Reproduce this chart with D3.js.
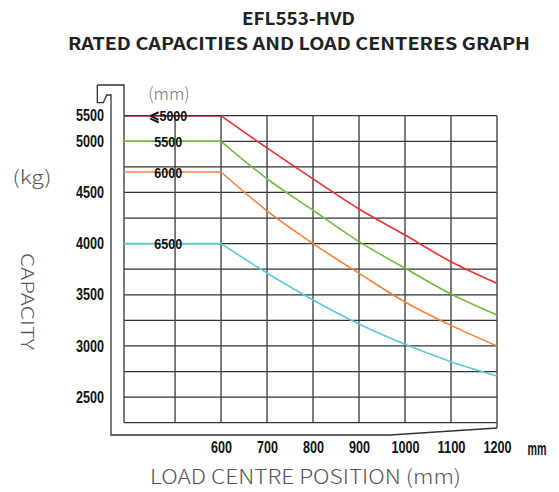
<!DOCTYPE html>
<html><head><meta charset="utf-8">
<script src="https://cdn.jsdelivr.net/npm/d3@7"></script>
<style>body{margin:0;background:#fff}</style>
</head><body><svg id="c" width="559" height="492"></svg>
<script>
// ---- data ----
const loadCentres = [389, 600, 700, 800, 900, 1000, 1100, 1200];
const seriesNames = ["⩽5000", "5500", "6000", "6500"];
const cap5000 = [5500, 5500, 4935, 4632, 4338, 4084, 3823, 3612];
const cap5500 = [5000, 5000, 4634, 4326, 4020, 3759, 3507, 3302];
const cap6000 = [4700, 4700, 4320, 4000, 3710, 3430, 3201, 3000];
const cap6500 = [4000, 4000, 3713, 3449, 3214, 3016, 2846, 2706];
const xTicks = [600, 700, 800, 900, 1000, 1100, 1200];
const xGrid = [500, 600, 700, 800, 900, 1000, 1100, 1200];
const yTicks = [5500, 5000, 4500, 4000, 3500, 3000, 2500];
const yGrid = [5500, 5000, 4750, 4500, 4250, 4000, 3750, 3500, 3250, 3000, 2750, 2500, 2250];
const colors = ["#ec2f33", "#73bb43", "#f5823b", "#5ec9d6"];

const series = [cap5000, cap5500, cap6000, cap6500].map((vals, i) => ({
  name: seriesNames[i], color: colors[i],
  pts: loadCentres.map((lc, j) => [lc, vals[j]])
}));

const svg = d3.select("#c");
const x = d3.scaleLinear().domain([389, 1200]).range([124, 497]);
// broken axis: top band (5000-5500) compressed
const y = d3.scaleLinear().domain([2250, 5000, 5500]).range([422.7, 141.3, 115.7]);

const numFont = "'Liberation Sans',Arial,sans-serif";
const lightFont = "'Noto Sans CJK SC','Noto Sans',sans-serif";
const narrow = function () { return this.textContent.length * 7; };

// title
svg.append("text").attr("x", 298.5).attr("y", 25).attr("text-anchor", "middle")
  .attr("font-family", "'Noto Sans CJK SC','Noto Sans',sans-serif").attr("font-weight", "bold")
  .attr("font-size", 17.5).attr("fill", "#222")
  .attr("textLength", 113).attr("lengthAdjust", "spacingAndGlyphs").text("EFL553-HVD");
svg.append("text").attr("x", 299).attr("y", 50).attr("text-anchor", "middle")
  .attr("font-family", "'Noto Sans CJK SC','Noto Sans',sans-serif").attr("font-weight", "bold")
  .attr("font-size", 17.5).attr("fill", "#222")
  .attr("textLength", 462).attr("lengthAdjust", "spacingAndGlyphs")
  .text("RATED CAPACITIES AND LOAD CENTERES GRAPH");

// grid
const g = svg.append("g");
g.selectAll("line.h").data(yGrid).join("line")
  .attr("x1", x(389)).attr("x2", x(1200))
  .attr("y1", d => y(d)).attr("y2", d => y(d))
  .attr("stroke", "#333").attr("stroke-width", 1.2);
g.selectAll("line.v").data(xGrid).join("line")
  .attr("x1", d => x(d)).attr("x2", d => x(d))
  .attr("y1", y(5500)).attr("y2", d => d === 1200 ? 428 : y(2250))
  .attr("stroke", "#444").attr("stroke-width", 1.4);

// outer frame (mast-shaped)
svg.append("path")
  .attr("d", `M97.3,85 H${x(389)} V${y(2250)} M97.3,85 V102.7 H103.3 L106.7,95 H111 V435 H390 L${x(1200)},428`)
  .attr("fill", "none").attr("stroke", "#333").attr("stroke-width", 1.3);

// curves: flat part straight, then smooth decline from 600 mm
const flat = d3.line().x(d => x(d[0])).y(d => y(d[1]));
const curve = d3.line().x(d => x(d[0])).y(d => y(d[1])).curve(d3.curveMonotoneX);
const sg = svg.selectAll("g.s").data(series).join("g");
sg.append("path").attr("d", d => flat(d.pts.slice(0, 2)))
  .attr("fill", "none").attr("stroke", d => d.color).attr("stroke-width", 1.6);
sg.append("path").attr("d", d => curve(d.pts.slice(1)))
  .attr("fill", "none").attr("stroke", d => d.color).attr("stroke-width", 1.6);

// darken top border over red flat part
svg.append("line").attr("x1", x(389)).attr("x2", x(600)).attr("y1", y(5500)).attr("y2", y(5500))
  .attr("stroke", "#000").attr("stroke-opacity", 0.45).attr("stroke-width", 1.6);

// series labels
svg.selectAll("text.sl").data(series).join("text")
  .attr("x", x(485)).attr("y", d => y(d.pts[0][1])).attr("dy", "0.36em")
  .attr("text-anchor", "middle").attr("font-family", numFont).attr("font-weight", "bold")
  .attr("font-size", 15.5).attr("fill", "#111")
  .attr("textLength", (d, i) => i === 0 ? 38 : 28).attr("lengthAdjust", "spacingAndGlyphs")
  .text(d => d.name);

// axes
const ya = svg.append("g").attr("transform", "translate(104,0)")
  .call(d3.axisLeft(y).tickValues(yTicks).tickSize(0).tickPadding(0).tickFormat(d3.format("d")));
ya.select(".domain").remove();
ya.selectAll("text").attr("font-family", numFont).attr("font-weight", "bold")
  .attr("font-size", 16).attr("fill", "#111")
  .attr("textLength", narrow).attr("lengthAdjust", "spacingAndGlyphs");

const xa = svg.append("g").attr("transform", "translate(0,442)")
  .call(d3.axisBottom(x).tickValues(xTicks).tickSize(0).tickPadding(0).tickFormat(d3.format("d")));
xa.select(".domain").remove();
xa.selectAll("text").attr("font-family", numFont).attr("font-weight", "bold")
  .attr("font-size", 16).attr("fill", "#111")
  .attr("textLength", narrow).attr("lengthAdjust", "spacingAndGlyphs");

svg.append("text").attr("x", 537).attr("y", 454.5).attr("text-anchor", "middle")
  .attr("font-family", numFont).attr("font-weight", "bold").attr("font-size", 17.5)
  .attr("fill", "#111").attr("textLength", 19).attr("lengthAdjust", "spacingAndGlyphs").text("mm");

// axis titles
svg.append("text").attr("x", 169).attr("y", 100).attr("text-anchor", "middle")
  .attr("font-family", lightFont).attr("font-weight", 300).attr("font-size", 17).attr("fill", "#777").text("(mm)");
svg.append("text").attr("x", 32).attr("y", 184).attr("text-anchor", "middle")
  .attr("font-family", lightFont).attr("font-weight", 300).attr("font-size", 19).attr("fill", "#555")
  .attr("textLength", 39).attr("lengthAdjust", "spacingAndGlyphs").text("(kg)");
svg.append("text").attr("transform", "translate(21,301.5) rotate(90)").attr("text-anchor", "middle")
  .attr("font-family", lightFont).attr("font-weight", 300).attr("font-size", 18).attr("fill", "#555")
  .attr("textLength", 97).attr("lengthAdjust", "spacingAndGlyphs").text("CAPACITY");
svg.append("text").attr("x", 305.5).attr("y", 484).attr("text-anchor", "middle")
  .attr("font-family", lightFont).attr("font-weight", 300).attr("font-size", 20).attr("fill", "#555")
  .attr("textLength", 311).attr("lengthAdjust", "spacingAndGlyphs").text("LOAD CENTRE POSITION (mm)");
</script></body></html>
